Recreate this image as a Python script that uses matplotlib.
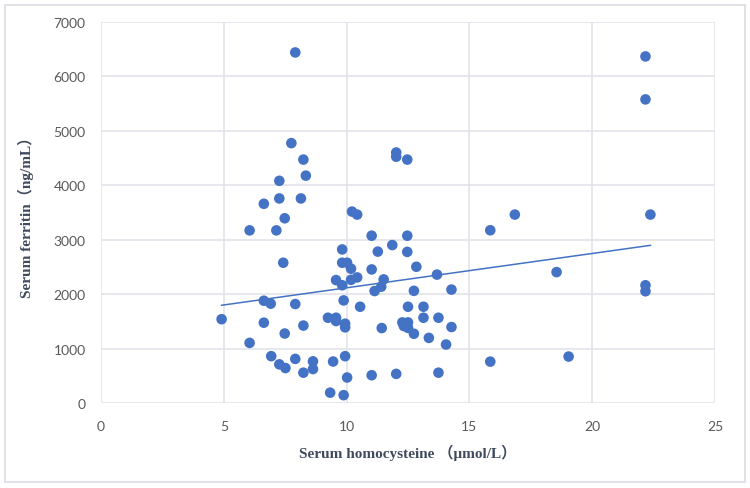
import matplotlib.pyplot as plt
from matplotlib.patches import Rectangle

# serum homocysteine (umol/L) and serum ferritin (ng/mL)
homocysteine = [
    7.91, 22.17, 22.17, 7.75, 8.24, 12.02, 12.02, 12.47, 8.34, 7.26,
    7.26, 8.14, 6.63, 7.48, 6.05, 7.14, 10.22, 10.43, 16.85, 22.37,
    15.85, 11.02, 12.47, 11.86, 11.27, 12.47, 9.82, 7.42, 9.82, 10.02,
    10.18, 11.02, 12.84, 13.68, 18.55, 9.57, 10.43, 10.18, 11.51, 9.82,
    11.41, 11.14, 12.74, 14.27, 22.17, 22.17, 6.63, 6.91, 7.91, 9.88,
    10.55, 12.50, 13.13, 4.91, 6.63, 9.24, 9.57, 9.57, 9.94, 9.94,
    8.24, 7.48, 11.43, 12.27, 12.50, 12.33, 12.50, 12.74, 13.13, 13.74,
    13.35, 14.27, 14.05, 6.05, 6.93, 7.91, 9.94, 19.04, 7.26, 7.51,
    8.63, 9.45, 15.85, 8.24, 8.63, 10.02, 11.02, 12.02, 13.74, 9.33,
    9.88,
]
ferritin = [
    6437, 6364, 5575, 4772, 4470, 4600, 4522, 4470, 4175, 4080,
    3756, 3756, 3658, 3392, 3170, 3170, 3515, 3460, 3460, 3460,
    3172, 3072, 3072, 2900, 2780, 2775, 2820, 2576, 2576, 2576,
    2466, 2453, 2502, 2358, 2404, 2257, 2306, 2262, 2270, 2162,
    2136, 2056, 2060, 2083, 2162, 2052, 1878, 1824, 1817, 1884,
    1768, 1768, 1768, 1539, 1475, 1566, 1566, 1505, 1456, 1389,
    1422, 1276, 1376, 1480, 1480, 1413, 1380, 1272, 1566, 1566,
    1196, 1395, 1074, 1104, 860, 810, 860, 853, 710, 642,
    765, 762, 760, 557, 624, 468, 510, 535, 557, 190,
    144,
]

# linear trendline as drawn on the chart (its two ends)
trend_x = [4.91, 22.37]
trend_y = [1795, 2895]

x_ticks = [0, 5, 10, 15, 20, 25]
y_ticks = [0, 1000, 2000, 3000, 4000, 5000, 6000, 7000]

fig = plt.figure(figsize=(7.5, 4.89), dpi=100)
ax = fig.add_axes([0.1347, 0.1738, 0.8186, 0.7796])

# thin frame round the whole chart, like the Excel chart area
fig.patches.append(Rectangle((0.007, 0.012), 0.986, 0.976, transform=fig.transFigure,
                             fill=False, edgecolor='#D9DCE3', linewidth=1.2))

ax.scatter(homocysteine, ferritin, s=58, color='#4472C4', edgecolors='none', zorder=3)
ax.plot(trend_x, trend_y, color='#4472C4', linewidth=1.1, zorder=2)

ax.set_xlim(0, 25)
ax.set_ylim(0, 7000)
ax.set_xticks(x_ticks)
ax.set_yticks(y_ticks)
ax.grid(True, color='#E1E4EB', linewidth=1.2)
ax.set_axisbelow(True)
for s in ax.spines.values():
    s.set_visible(False)
ax.tick_params(length=0, labelsize=10, labelcolor='#595959')
ax.tick_params(axis='x', pad=12)
ax.tick_params(axis='y', pad=11)
for lab in ax.get_xticklabels() + ax.get_yticklabels():
    lab.set_family('Lato')

label_font = dict(family=['Liberation Serif', 'Noto Sans CJK SC'], weight='bold',
                  size=11, color='#3F4A5E')
ax.set_xlabel('Serum homocysteine （μmol/L）', labelpad=9, **label_font)
ax.set_ylabel('Serum ferritin（ng/mL）', labelpad=14, **label_font)

fig.savefig('out.png', dpi=100)
